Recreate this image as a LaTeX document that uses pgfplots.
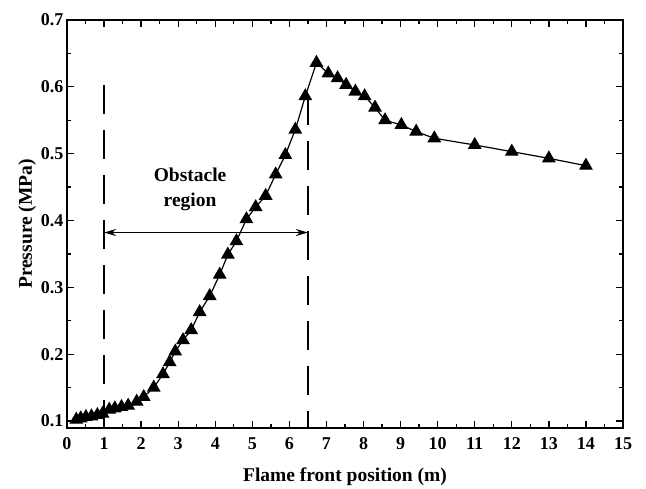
\documentclass[border=0pt]{standalone}
\usepackage{fontspec}
\setmainfont{Liberation Serif}
\usepackage{pgfplots}
\pgfplotsset{compat=1.18}
\usetikzlibrary{arrows.meta}
\begin{document}
\begin{tikzpicture}
\path (-67pt,-59pt) rectangle (579pt,428pt);
\begin{axis}[
  scale only axis,
  width=556pt, height=408pt,
  xmin=0, xmax=15, ymin=0.0895, ymax=0.7,
  xtick={0,1,...,15},
  ytick={0.1,0.2,0.3,0.4,0.5,0.6,0.7},
  minor x tick num=1, minor y tick num=1,
  tick align=inside,
  major tick length=7pt, minor tick length=4pt,
  axis line style={line width=1.5pt},
  every tick/.style={line width=1.3pt, black},
  /pgf/number format/assume math mode=true,
  yticklabel style={/pgf/number format/fixed, /pgf/number format/fixed zerofill, /pgf/number format/precision=1},
  tick label style={font=\fontsize{18}{20}\selectfont\bfseries},
  xticklabel style={anchor=base, yshift=-22pt},
  xlabel={Flame front position (m)},
  ylabel={Pressure (MPa)},
  label style={font=\fontsize{19.5}{22}\selectfont\bfseries},
  xlabel style={at={(axis description cs:0.5,0)}, anchor=base, yshift=-53pt},
  ylabel style={at={(axis description cs:-0.063,0.5)}, anchor=base},
]
\addplot[black, line width=1.2pt, mark=triangle*, mark size=6.8pt, mark options={solid, fill=black}] coordinates {
(0.25,0.102) (0.37,0.104) (0.51,0.106) (0.66,0.107) (0.82,0.109) (0.96,0.111)
(1.14,0.117) (1.29,0.119) (1.47,0.121) (1.65,0.123) (1.88,0.129) (2.07,0.136)
(2.34,0.150) (2.59,0.170) (2.77,0.188) (2.92,0.204) (3.13,0.221) (3.35,0.236)
(3.58,0.263) (3.85,0.287) (4.12,0.319) (4.34,0.349) (4.57,0.369) (4.84,0.402)
(5.09,0.420) (5.36,0.437) (5.63,0.469) (5.89,0.498) (6.16,0.536) (6.43,0.586)
(6.73,0.636) (7.05,0.620) (7.30,0.613) (7.53,0.603) (7.78,0.593) (8.03,0.586)
(8.31,0.569) (8.58,0.550) (9.02,0.543) (9.42,0.533) (9.91,0.523) (11.0,0.513)
(12.0,0.503) (13.0,0.493) (14.0,0.482)
};
\draw[line width=2pt, dash pattern=on 29pt off 16pt] (axis cs:1,0.603) -- (axis cs:1,0.0895);
\draw[line width=2pt, dash pattern=on 29pt off 16pt] (axis cs:6.5,0.586) -- (axis cs:6.5,0.0895);
\draw[line width=1.4pt, {Stealth[length=12pt,width=7pt]}-{Stealth[length=12pt,width=7pt]}] (axis cs:1,0.382) -- (axis cs:6.5,0.382);
\node[align=center, font=\fontsize{19.5}{25}\selectfont\bfseries] at (axis cs:3.32,0.446) {Obstacle\\region};
\end{axis}
\end{tikzpicture}
\end{document}
